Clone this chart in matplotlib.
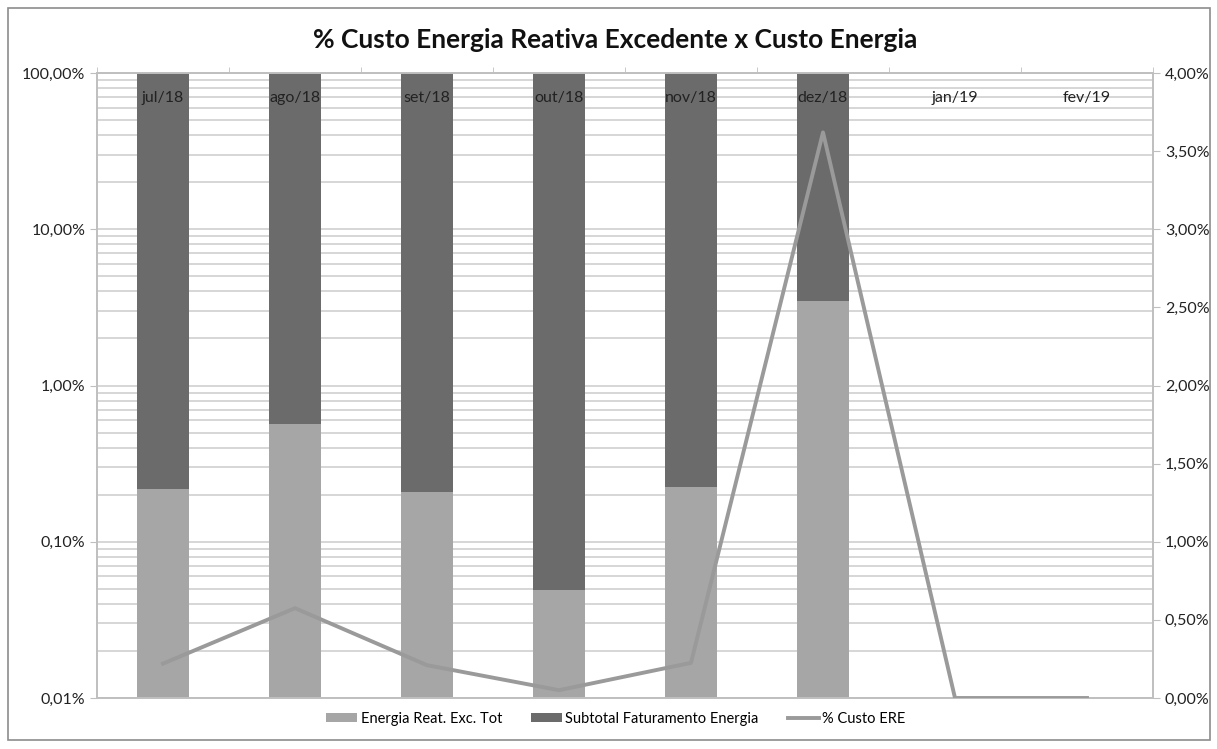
import numpy as np
import matplotlib
matplotlib.use("Agg")
from matplotlib import pyplot as plt
from matplotlib.ticker import FuncFormatter, LogLocator, FixedLocator
from matplotlib.patches import Rectangle

plt.rcParams['font.family'] = ['Lato', 'DejaVu Sans']

months = ['jul/18', 'ago/18', 'set/18', 'out/18', 'nov/18', 'dez/18', 'jan/19', 'fev/19']
# share of reactive energy in total bill (%), stacked with the rest up to 100%
ere_share = [0.218, 0.567, 0.208, 0.049, 0.224, 3.47, np.nan, np.nan]
subtotal_share = [100 - v if not np.isnan(v) else np.nan for v in ere_share]
# % Custo ERE line (right axis, %)
custo_ere = [0.22, 0.575, 0.21, 0.05, 0.225, 3.62, 0.0, 0.0]

c_light = '#a6a6a6'
c_dark = '#6b6b6b'
c_line = '#9a9a9a'
c_grid = '#d0d0d0'

fig = plt.figure(figsize=(12.17, 7.49), dpi=100)
fig.patches.append(Rectangle((8 / 1217, 9 / 749), 1202 / 1217, 732 / 749,
                             transform=fig.transFigure, fill=False,
                             edgecolor='#8c8c8c', linewidth=1.2))

ax = fig.add_axes([97 / 1217, 51 / 749, 1056 / 1217, 625 / 749])
x = np.arange(len(months))
bottom = 0.01
ax.bar(x, [v - bottom for v in ere_share], bottom=bottom, width=0.4,
       color=c_light, label='Energia Reat. Exc. Tot', zorder=2)
ax.bar(x, subtotal_share, bottom=ere_share, width=0.4,
       color=c_dark, label='Subtotal Faturamento Energia', zorder=2)

ax.set_yscale('log')
ax.set_ylim(0.01, 100)
ax.set_xlim(-0.5, len(months) - 0.5)
ax.yaxis.set_major_locator(LogLocator(base=10, numticks=10))
ax.yaxis.set_minor_locator(LogLocator(base=10, subs=np.arange(2, 10), numticks=10))
ax.yaxis.set_major_formatter(FuncFormatter(lambda v, p: f'{v:.2f}%'.replace('.', ',')))
ax.yaxis.set_minor_formatter(FuncFormatter(lambda v, p: ''))
ax.grid(True, which='both', axis='y', color=c_grid, linewidth=1.2, zorder=0)
ax.set_axisbelow(True)

# month labels sit inside the top of the plot, above the bars
ax.xaxis.tick_top()
ax.set_xticks(x)
ax.set_xticklabels([])
for xi, m in zip(x, months):
    ax.text(xi, 0.960, m, transform=ax.get_xaxis_transform(), ha='center', va='center',
            fontsize=11.5, color='#222222', zorder=10)
ax.xaxis.set_minor_locator(FixedLocator(np.arange(-0.5, len(months), 1)))
ax.tick_params(axis='x', which='major', length=0)
ax.tick_params(axis='x', which='minor', length=4, color='#bfbfbf', direction='out')
ax.tick_params(axis='y', which='major', length=5, color='#bfbfbf', labelsize=11.5, labelcolor='#222222')
ax.tick_params(axis='y', which='minor', length=0)

for s in ['left', 'right', 'top', 'bottom']:
    ax.spines[s].set_color('#bfbfbf')
    ax.spines[s].set_linewidth(1.2)

ax2 = ax.twinx()
ax2.plot(x, custo_ere, color=c_line, linewidth=2.8, label='% Custo ERE', zorder=3)
ax2.set_ylim(0, 4)
ax2.set_yticks(np.arange(0, 4.01, 0.5))
ax2.yaxis.set_major_formatter(FuncFormatter(lambda v, p: f'{v:.2f}%'.replace('.', ',')))
ax2.tick_params(axis='y', length=5, color='#bfbfbf', labelsize=11.5, labelcolor='#222222')
for s in ['left', 'right', 'top', 'bottom']:
    ax2.spines[s].set_color('#bfbfbf')
    ax2.spines[s].set_linewidth(1.2)

fig.text(615 / 1217, 1 - 40 / 749, '% Custo Energia Reativa Excedente x Custo Energia',
         ha='center', va='center', fontsize=19, fontweight='bold', color='#111111')

h1, l1 = ax.get_legend_handles_labels()
h2, l2 = ax2.get_legend_handles_labels()
fig.legend(h1 + h2, l1 + l2, loc='center', bbox_to_anchor=(616 / 1217, 1 - 719 / 749),
           ncol=3, frameon=False, fontsize=10.5, handlelength=2.1, handleheight=0.6,
           columnspacing=2.0, handletextpad=0.25)

fig.savefig('out.png', dpi=100)
